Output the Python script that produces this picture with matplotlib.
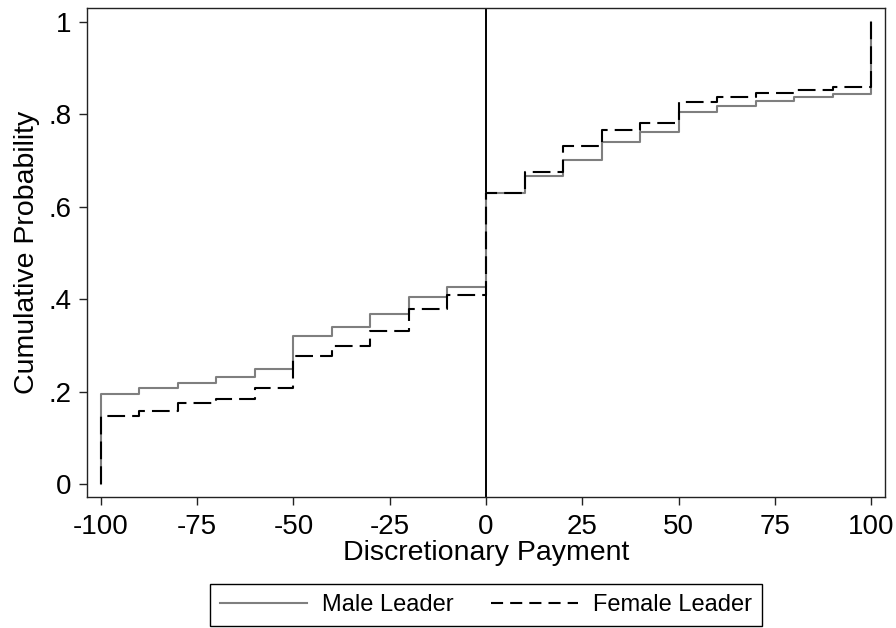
import matplotlib
matplotlib.use("Agg")
import matplotlib.pyplot as plt
from matplotlib.lines import Line2D

plt.rcParams['font.family'] = ['Liberation Sans', 'DejaVu Sans']

# Discretionary payment levels and empirical CDF values by leader gender
payments = [-100, -90, -80, -70, -60, -50, -40, -30, -20, -10, 0,
            10, 20, 30, 40, 50, 60, 70, 80, 90, 100]
male_cdf = [0.195, 0.207, 0.219, 0.231, 0.249, 0.320, 0.340, 0.367, 0.405, 0.426,
            0.629, 0.667, 0.701, 0.739, 0.761, 0.804, 0.818, 0.828, 0.837, 0.843, 1.0]
female_cdf = [0.148, 0.158, 0.175, 0.185, 0.207, 0.276, 0.299, 0.332, 0.379, 0.408,
              0.629, 0.676, 0.732, 0.766, 0.781, 0.826, 0.838, 0.847, 0.853, 0.860, 1.0]
x_ticks = [-100, -75, -50, -25, 0, 25, 50, 75, 100]
y_ticks = [0, 0.2, 0.4, 0.6, 0.8, 1.0]
y_tick_labels = ["0", ".2", ".4", ".6", ".8", "1"]

fig = plt.figure(figsize=(8.96, 6.28), dpi=100)
ax = fig.add_axes([87 / 896, 1 - 497 / 628, (885 - 87) / 896, (497 - 8) / 628])

xs = [payments[0]] + payments
male_y = [0.0] + male_cdf
female_y = [0.0] + female_cdf

plot_dash = (0, (8.5, 3.4))
legend_dash = (0, (5.8, 3.4))
ax.axvline(0, color='black', lw=1.4, zorder=1)
ax.step(xs, male_y, where='post', color='#7f7f7f', lw=1.5, zorder=2)
ax.step(xs, female_y, where='post', color='black', lw=1.5, linestyle=plot_dash, zorder=3)

ax.set_xlim(-103.6, 103.6)
ax.set_ylim(-0.028, 1.030)
ax.set_xticks(x_ticks)
ax.set_xticklabels([str(v) for v in x_ticks])
ax.set_yticks(y_ticks)
ax.set_yticklabels(y_tick_labels)
ax.tick_params(axis='both', labelsize=20, length=6, width=1.0, color='#222222', pad=5)
ax.tick_params(axis='x', pad=6)
for s in ax.spines.values():
    s.set_linewidth(1.0)
    s.set_color('#222222')

ax.set_xlabel("Discretionary Payment", fontsize=20.5, labelpad=0)
ax.set_ylabel("Cumulative Probability", fontsize=20.5, labelpad=6)

handles = [Line2D([], [], color='#7f7f7f', lw=1.5),
           Line2D([], [], color='black', lw=1.5, linestyle=legend_dash)]
leg = fig.legend(handles, ["Male Leader", "Female Leader"], loc='center',
                 bbox_to_anchor=(486 / 896, 1 - 605 / 628), ncol=2, fontsize=17,
                 frameon=True, fancybox=False, edgecolor='black', framealpha=1,
                 handlelength=3.7, handletextpad=0.64, columnspacing=1.57,
                 borderpad=0.42, borderaxespad=0)
leg.get_frame().set_linewidth(1.0)

fig.savefig("out.png", dpi=100, facecolor='white')
